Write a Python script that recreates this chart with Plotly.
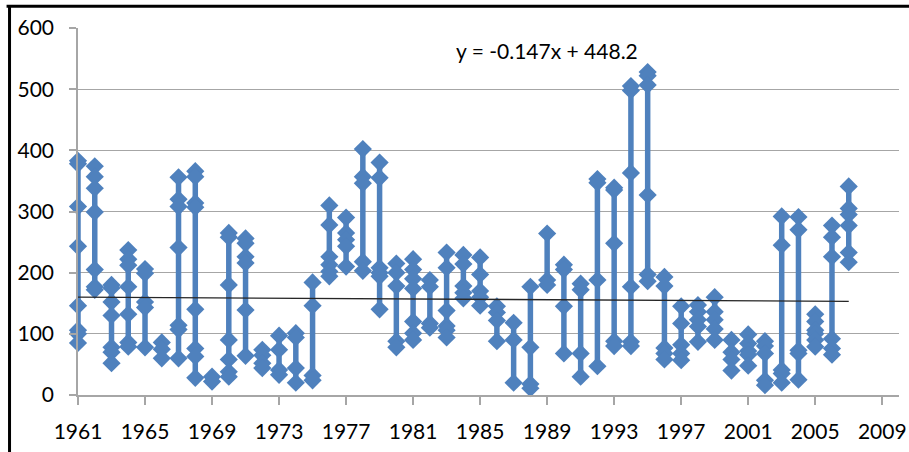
import plotly.graph_objects as go

# ---- data ----
years = list(range(1961, 2008))

values_by_year = [
    [85, 100, 106, 146, 243, 308, 378, 383],      # 1961
    [374, 357, 338, 299, 205, 177, 172],          # 1962
    [180, 175, 152, 130, 52, 70, 78],             # 1963
    [79, 86, 132, 177, 237, 222, 212],            # 1964
    [206, 199, 152, 143, 78],                     # 1965
    [75, 86, 60],                                 # 1966
    [60, 107, 114, 241, 308, 320, 356],           # 1967
    [357, 366, 314, 307, 140, 76, 63, 28],        # 1968
    [22, 30],                                     # 1969
    [30, 38, 58, 90, 180, 265, 258],              # 1970
    [256, 248, 226, 216, 139, 64],                # 1971
    [65, 74, 52, 44],                             # 1972
    [41, 33, 74, 97],                             # 1973
    [101, 94, 44, 20],                            # 1974
    [24, 32, 146, 184],                           # 1975
    [194, 202, 310, 278, 226, 213],               # 1976
    [210, 290, 265, 254, 243],                    # 1977
    [218, 203, 346, 357, 402],                    # 1978
    [380, 355, 140, 194, 200, 208],               # 1979
    [215, 200, 178, 88, 78],                      # 1980
    [90, 101, 120, 174, 222, 205, 190],           # 1981
    [188, 177, 117, 110],                         # 1982
    [106, 94, 113, 138, 208, 233],                # 1983
    [229, 214, 178, 167, 158],                    # 1984
    [160, 225, 197, 170, 146],                    # 1985
    [145, 135, 122, 88],                          # 1986
    [90, 118, 20],                                # 1987
    [18, 11, 78, 177],                            # 1988
    [180, 264, 188],                              # 1989
    [205, 213, 68, 145],                          # 1990
    [172, 182, 30, 68],                           # 1991
    [47, 188, 347, 353],                          # 1992
    [339, 335, 248, 88, 80],                      # 1993
    [80, 87, 177, 363, 498, 505],                 # 1994
    [507, 522, 528, 327, 186, 197],               # 1995
    [193, 178, 58, 68, 77],                       # 1996
    [82, 57, 68, 117, 145],                       # 1997
    [147, 87, 112, 123, 136],                     # 1998
    [136, 160, 123, 108, 90],                     # 1999
    [90, 70, 58, 40],                             # 2000
    [48, 99, 72, 66, 84],                         # 2001
    [88, 80, 68, 16, 24],                         # 2002
    [20, 35, 41, 245, 292],                       # 2003
    [291, 270, 25, 68, 73],                       # 2004
    [79, 132, 120, 106, 100, 90],                 # 2005
    [92, 76, 66, 226, 258, 277],                  # 2006
    [277, 295, 305, 341, 233, 217],               # 2007
]

trend_slope = -0.147
trend_intercept = 448.2
trend_years = [1961, 2007]
equation_text = "y = -0.147x + 448.2"

x_tick_values = list(range(1961, 2010, 4))
y_tick_values = list(range(0, 601, 100))

# ---- build traces: one vertical run of points per year ----
xs, ys = [], []
for yr, vals in zip(years, values_by_year):
    for v in sorted(vals, reverse=True):
        xs.append(yr)
        ys.append(v)
    xs.append(None)
    ys.append(None)

blue = "#4F81BD"
grid = "#A6A6A6"
font_family = "Lato, 'Open Sans', 'Liberation Sans', sans-serif"

fig = go.Figure()
fig.add_trace(go.Scatter(
    x=xs, y=ys, mode="lines+markers",
    line=dict(color=blue, width=5.5),
    marker=dict(symbol="diamond", size=14, color=blue),
    showlegend=False, hoverinfo="x+y", cliponaxis=False,
    connectgaps=False,
))
fig.add_trace(go.Scatter(
    x=trend_years,
    y=[trend_slope * t + trend_intercept for t in trend_years],
    mode="lines", line=dict(color="#262626", width=1.3),
    showlegend=False, hoverinfo="skip", cliponaxis=False,
))

fig.add_annotation(
    x=1989, y=563, xref="x", yref="y", text=equation_text,
    showarrow=False, font=dict(size=21, color="#000", family=font_family),
)

# outer frame (top and left edges visible)
fig.add_shape(type="line", xref="paper", yref="paper",
              x0=-0.087, x1=1.02, y0=1.0594, y1=1.0594,
              line=dict(color="#000", width=3))
fig.add_shape(type="line", xref="paper", yref="paper",
              x0=-0.0834, x1=-0.0834, y0=-0.2, y1=1.063,
              line=dict(color="#000", width=3))

fig.update_layout(
    width=909, height=452,
    margin=dict(l=78, r=10, t=28, b=57, autoexpand=False),
    paper_bgcolor="white", plot_bgcolor="white",
    font=dict(family=font_family, size=21, color="#000"),
    xaxis=dict(
        range=[1961, 2010], tickvals=x_tick_values,
        ticks="outside", ticklen=8, tickcolor=grid, tickwidth=1.5,
        showgrid=False, zeroline=False,
        showline=True, linecolor=grid, linewidth=1.5,
        ticklabelstandoff=9, automargin=False,
        tickfont=dict(size=21),
    ),
    yaxis=dict(
        range=[0, 600], tickvals=y_tick_values,
        ticks="outside", ticklen=7, tickcolor=grid, tickwidth=1.5,
        showgrid=True, gridcolor=grid, gridwidth=1.3,
        zeroline=False,
        showline=True, linecolor=grid, linewidth=1.5,
        ticklabelstandoff=11, automargin=False,
        tickfont=dict(size=21),
    ),
)

fig.write_html("out.html")
